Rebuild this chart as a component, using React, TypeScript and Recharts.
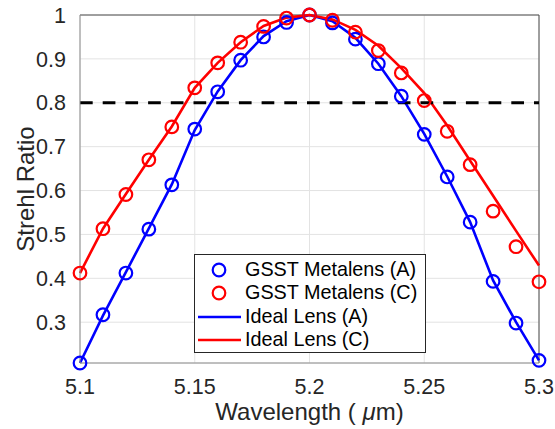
import {
  ComposedChart,
  Line,
  XAxis,
  YAxis,
  CartesianGrid,
  ReferenceLine,
  Legend,
} from "recharts";

const wavelength = [
  5.1, 5.11, 5.12, 5.13, 5.14, 5.15, 5.16, 5.17, 5.18, 5.19, 5.2, 5.21, 5.22,
  5.23, 5.24, 5.25, 5.26, 5.27, 5.28, 5.29, 5.3,
];
const gsstA = [
  0.207, 0.317, 0.412, 0.512, 0.613, 0.74, 0.825, 0.897, 0.95, 0.983, 1.0,
  0.982, 0.945, 0.889, 0.815, 0.728, 0.631, 0.528, 0.393, 0.298, 0.213,
];
const gsstC = [
  0.412, 0.513, 0.591, 0.67, 0.745, 0.834, 0.891, 0.938, 0.974, 0.993, 1.0,
  0.988, 0.961, 0.919, 0.868, 0.805, 0.735, 0.659, 0.553, 0.472, 0.392,
];
const idealA = [
  0.207, 0.315, 0.414, 0.514, 0.614, 0.738, 0.826, 0.897, 0.952, 0.986, 1.0,
  0.986, 0.948, 0.889, 0.815, 0.729, 0.632, 0.528, 0.395, 0.3, 0.213,
];
const idealC = [
  0.412, 0.513, 0.592, 0.67, 0.746, 0.834, 0.891, 0.938, 0.975, 0.994, 1.0,
  0.99, 0.966, 0.93, 0.879, 0.822, 0.748, 0.668, 0.588, 0.508, 0.429,
];
const xTicks = [5.1, 5.15, 5.2, 5.25, 5.3];
const yTicks = [0.3, 0.4, 0.5, 0.6, 0.7, 0.8, 0.9, 1];

const data = wavelength.map((x, i) => ({
  x,
  gsstA: gsstA[i],
  gsstC: gsstC[i],
  idealA: idealA[i],
  idealC: idealC[i],
}));

const FONT = "'Liberation Sans', Arial, Helvetica, sans-serif";
const BLUE = "#0000ff";
const RED = "#ff0000";

const legendItems = [
  { label: "GSST Metalens (A)", color: BLUE, kind: "marker" },
  { label: "GSST Metalens (C)", color: RED, kind: "marker" },
  { label: "Ideal Lens (A)", color: BLUE, kind: "line" },
  { label: "Ideal Lens (C)", color: RED, kind: "line" },
];

function LegendBox() {
  return (
    <div
      style={{
        border: "1px solid #262626",
        background: "#fff",
        boxSizing: "border-box",
        width: 232,
        height: 99,
        paddingTop: 3,
        fontFamily: FONT,
        fontSize: 19.8,
        color: "#000",
      }}
    >
      {legendItems.map((it) => (
        <div
          key={it.label}
          style={{ display: "flex", alignItems: "center", height: 23.5 }}
        >
          <svg width={50} height={20} style={{ flex: "none" }}>
            {it.kind === "marker" ? (
              <circle
                cx={24}
                cy={10}
                r={6.3}
                fill="none"
                stroke={it.color}
                strokeWidth={2.2}
              />
            ) : (
              <line
                x1={3}
                x2={46}
                y1={10}
                y2={10}
                stroke={it.color}
                strokeWidth={2.6}
              />
            )}
          </svg>
          <span style={{ lineHeight: 1 }}>{it.label}</span>
        </div>
      ))}
    </div>
  );
}

export default function App() {
  return (
    <div
      style={{
        position: "absolute",
        left: 0,
        top: 0,
        width: 555,
        height: 429,
        background: "#fff",
      }}
    >
      <ComposedChart
        width={555}
        height={429}
        data={data}
        margin={{ top: 15, right: 16, bottom: 0, left: 20 }}
      >
        <CartesianGrid stroke="#e3e3e3" strokeWidth={1} />
        <XAxis
          dataKey="x"
          type="number"
          domain={[5.1, 5.3]}
          ticks={xTicks}
          height={66}
          tickLine={false}
          tickMargin={10}
          stroke="#8c8c8c"
          tick={{ fill: "#262626", fontSize: 21.5, fontFamily: FONT }}
          label={{
            content: ({ viewBox }: any) => (
              <text
                x={viewBox.x + viewBox.width / 2}
                y={viewBox.y + 57}
                textAnchor="middle"
                fill="#262626"
                fontSize={24}
                fontFamily={FONT}
              >
                Wavelength ({" "}
                <tspan fontStyle="italic">μ</tspan>m)
              </text>
            ),
          }}
        />
        <YAxis
          type="number"
          domain={[0.207, 1]}
          ticks={yTicks}
          width={60}
          tickLine={false}
          tickMargin={8}
          stroke="#8c8c8c"
          tick={{ fill: "#262626", fontSize: 21.5, fontFamily: FONT }}
          label={{
            content: ({ viewBox }: any) => {
              const cx = viewBox.x + 14;
              const cy = viewBox.y + viewBox.height / 2;
              return (
                <text
                  x={cx}
                  y={cy}
                  textAnchor="middle"
                  transform={`rotate(-90, ${cx}, ${cy})`}
                  fill="#262626"
                  fontSize={24}
                  fontFamily={FONT}
                >
                  Strehl Ratio
                </text>
              );
            },
          }}
        />
        <ReferenceLine y={1} stroke="#4d4d4d" strokeWidth={1} />
        <ReferenceLine x={5.3} stroke="#4d4d4d" strokeWidth={1} />
        <Line
          dataKey="gsstA"
          stroke="none"
          isAnimationActive={false}
          dot={{ r: 6.3, fill: "none", stroke: BLUE, strokeWidth: 2.2 }}
          activeDot={false}
        />
        <Line
          dataKey="gsstC"
          stroke="none"
          isAnimationActive={false}
          dot={{ r: 6.3, fill: "none", stroke: RED, strokeWidth: 2.2 }}
          activeDot={false}
        />
        <Line
          dataKey="idealA"
          type="linear"
          stroke={BLUE}
          strokeWidth={2.6}
          dot={false}
          isAnimationActive={false}
        />
        <Line
          dataKey="idealC"
          type="linear"
          stroke={RED}
          strokeWidth={2.6}
          dot={false}
          isAnimationActive={false}
        />
        <ReferenceLine
          y={0.8}
          stroke="#000"
          strokeWidth={3}
          strokeDasharray="12.7 10"
        />
        <Legend
          layout="vertical"
          align="center"
          verticalAlign="middle"
          wrapperStyle={{ left: 194, top: 254, width: 232, height: 99 }}
          content={() => <LegendBox />}
        />
      </ComposedChart>
    </div>
  );
}
